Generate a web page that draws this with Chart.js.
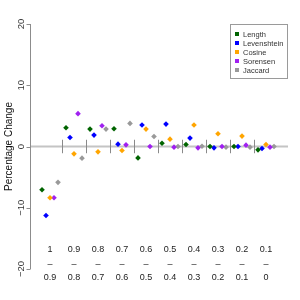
<!DOCTYPE html>
<html>
<head>
<meta charset="utf-8">
<script src="https://cdn.jsdelivr.net/npm/chart.js@4/dist/chart.umd.min.js"></script>
<style>
  html, body { margin: 0; padding: 0; background: #fff; }
  #wrap { width: 300px; height: 300px; }
</style>
</head>
<body>
<div id="wrap"><canvas id="pctchart"></canvas></div>
<script>
// category labels: top and bottom of each range
const rangeFrom = ["1", "0.9", "0.8", "0.7", "0.6", "0.5", "0.4", "0.3", "0.2", "0.1"];
const rangeTo = ["0.9", "0.8", "0.7", "0.6", "0.5", "0.4", "0.3", "0.2", "0.1", "0"];

const seriesNames = ["Length", "Levenshtein", "Cosine", "Sorensen", "Jaccard"];
const seriesColors = ["#006400", "#0000ff", "#ffa500", "#a020f0", "#999999"];

// percentage change per range
const lengthVals = [-7.05, 3.07, 2.84, 2.9, -1.86, 0.54, 0.33, 0, 0, -0.55];
const levenVals = [-11.26, 1.48, 1.86, 0.38, 3.5, 3.66, 1.37, -0.22, 0, -0.33];
const cosineVals = [-8.36, -1.2, -0.87, -0.66, 2.84, 1.2, 3.5, 2.08, 1.7, 0.33];
const sorensenVals = [-8.36, 5.36, 3.39, 0.27, 0, -0.11, -0.22, 0, 0.22, -0.11];
const jaccardVals = [-5.85, -1.9, 2.84, 3.77, 1.64, 0, 0.05, -0.11, -0.11, 0];

const yTicks = [-20, -10, 0, 10, 20];

const allVals = [lengthVals, levenVals, cosineVals, sorensenVals, jaccardVals];
// small side offsets so the five series sit next to each other in a range
const offsets = [-1 / 3, -1 / 6, 0, 1 / 6, 1 / 3];

let datasets = [];
for (let s = 0; s < seriesNames.length; s++) {
  datasets.push({
    label: seriesNames[s],
    data: allVals[s].map((v, i) => ({ x: i + 1 + offsets[s], y: v })),
    backgroundColor: seriesColors[s],
    borderWidth: 0,
    pointStyle: "rectRot",
    pointRadius: 2.8,
    pointHoverRadius: 2.8,
  });
}

const FONT = "'Liberation Sans', Arial, sans-serif";

// axis, zero line, separators, labels and legend, placed from the scales
const decorPlugin = {
  id: "decor",
  beforeDatasetsDraw(chart) {
    const ctx = chart.ctx;
    const xs = chart.scales.x;
    const ys = chart.scales.y;
    const area = chart.chartArea;
    ctx.save();
    // zero line
    ctx.strokeStyle = "#c4c4c4";
    ctx.lineWidth = 2;
    ctx.beginPath();
    ctx.moveTo(area.left, ys.getPixelForValue(0));
    ctx.lineTo(area.right, ys.getPixelForValue(0));
    ctx.stroke();
    // separators between ranges
    ctx.strokeStyle = "#8a8a8a";
    ctx.lineWidth = 1;
    for (let i = 1; i < rangeFrom.length; i++) {
      const px = Math.round(xs.getPixelForValue(i + 0.5)) + 0.5;
      ctx.beginPath();
      ctx.moveTo(px, ys.getPixelForValue(1.1));
      ctx.lineTo(px, ys.getPixelForValue(-1.1));
      ctx.stroke();
    }
    ctx.restore();
  },
  afterDraw(chart) {
    const ctx = chart.ctx;
    const xs = chart.scales.x;
    const ys = chart.scales.y;
    const area = chart.chartArea;
    ctx.save();
    // y axis line and ticks
    const ax = Math.round(area.left) + 0.5;
    ctx.strokeStyle = "#8c8c8c";
    ctx.lineWidth = 1;
    ctx.beginPath();
    ctx.moveTo(ax, ys.getPixelForValue(20));
    ctx.lineTo(ax, ys.getPixelForValue(-20));
    yTicks.forEach((t) => {
      const py = Math.round(ys.getPixelForValue(t)) + 0.5;
      ctx.moveTo(ax, py);
      ctx.lineTo(ax - 4, py);
    });
    ctx.stroke();

    // tick labels, turned like the axis
    ctx.fillStyle = "#333";
    ctx.font = "9.5px " + FONT;
    ctx.textAlign = "center";
    ctx.textBaseline = "middle";
    yTicks.forEach((t) => {
      ctx.save();
      ctx.translate(21, ys.getPixelForValue(t));
      ctx.rotate(-Math.PI / 2);
      ctx.fillText(t < 0 ? "\u2212" + Math.abs(t) : String(t), 0, 0);
      ctx.restore();
    });

    // axis title
    ctx.save();
    ctx.fillStyle = "#111";
    ctx.font = "10px " + FONT;
    ctx.translate(9, ys.getPixelForValue(0));
    ctx.rotate(-Math.PI / 2);
    ctx.fillText("Percentage Change", 0, 0);
    ctx.restore();

    // range labels inside the plot
    ctx.fillStyle = "#222";
    ctx.font = "9px " + FONT;
    for (let i = 0; i < rangeFrom.length; i++) {
      const px = xs.getPixelForValue(i + 1);
      ctx.fillText(rangeFrom[i], px, ys.getPixelForValue(-16.9));
      ctx.fillText("\u2013", px, ys.getPixelForValue(-19.2));
      ctx.fillText(rangeTo[i], px, ys.getPixelForValue(-21.4));
    }

    // legend box top right
    const lx = 230.5, ly = 24.5, lw = 57, lh = 54;
    ctx.strokeStyle = "#9a9a9a";
    ctx.lineWidth = 1;
    ctx.strokeRect(lx, ly, lw, lh);
    ctx.font = "7.5px " + FONT;
    ctx.textAlign = "left";
    for (let s = 0; s < seriesNames.length; s++) {
      const ey = 34 + s * 9;
      ctx.fillStyle = seriesColors[s];
      ctx.fillRect(235, ey - 2, 4, 4);
      ctx.fillStyle = "#333";
      ctx.fillText(seriesNames[s], 243, ey + 0.5);
    }
    ctx.restore();
  },
};

new Chart(document.getElementById("pctchart"), {
  type: "scatter",
  data: { datasets: datasets },
  options: {
    responsive: true,
    maintainAspectRatio: false,
    animation: false,
    layout: { padding: { left: 30, right: 12, top: 24, bottom: 31 } },
    scales: {
      x: { type: "linear", display: false, min: 1 / 6, max: 10.917 },
      y: { type: "linear", display: false, min: -20, max: 20 },
    },
    plugins: {
      legend: { display: false },
      tooltip: { enabled: false },
      title: { display: false },
    },
  },
  plugins: [decorPlugin],
});
</script>
</body>
</html>
